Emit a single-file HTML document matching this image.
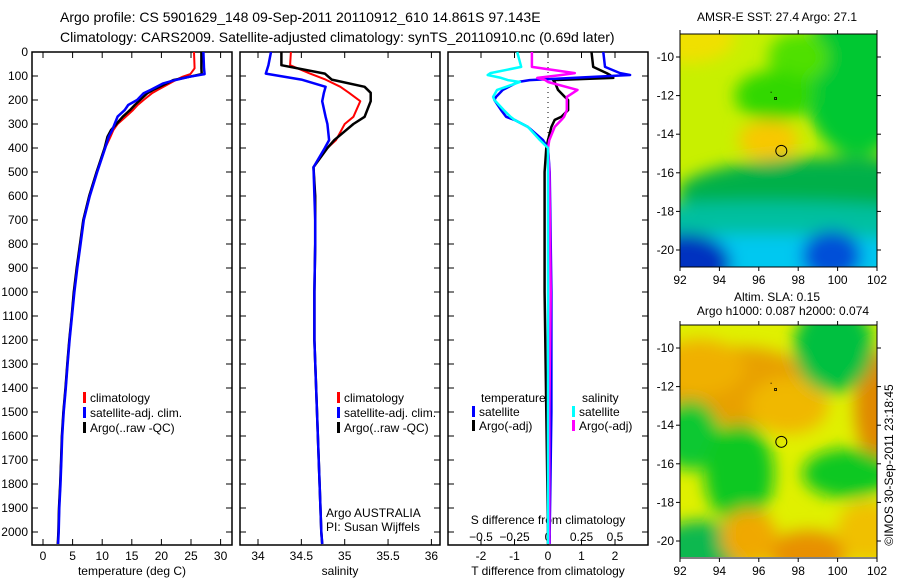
<!DOCTYPE html>
<html><head><meta charset="utf-8"><style>
body{margin:0;background:#fff}
svg{display:block;font-family:"Liberation Sans",sans-serif}
text{font-size:12px;fill:#000}
</style></head><body>
<svg id="c" width="900" height="580" xmlns="http://www.w3.org/2000/svg">
<defs>
<filter id="bl" x="-50%" y="-50%" width="200%" height="200%"><feGaussianBlur stdDeviation="8"/></filter>
<clipPath id="m1c"><rect x="680" y="34" width="197" height="233"/></clipPath>
<clipPath id="m2c"><rect x="680" y="325" width="197" height="232"/></clipPath>
</defs>
<text x="60" y="22" style="font-size:14px">Argo profile: CS 5901629_148 09-Sep-2011 20110912_610 14.861S 97.143E</text>
<text x="60" y="42" style="font-size:14px">Climatology: CARS2009. Satellite-adjusted climatology: synTS_20110910.nc (0.69d later)</text>
<g id="g"></g>
</svg>
<script>
// ---- data ----
const depths=[0,68,92,103,117,131,158,172,200,221,242,269,300,325,353,400,500,600,700,800,900,1000,1100,1200,1300,1400,1500,1600,1700,1800,1900,2000,2050];
const tArgo=[26.75,26.75,26.8,24.8,22,20.9,18.6,17.6,16.4,15.5,14.7,13.5,12.4,11.5,10.9,10.4,9.05,7.8,6.8,6.25,5.7,5.2,4.85,4.45,4.1,3.8,3.45,3.2,3.05,2.9,2.7,2.6,2.5];
const tClim=[25.5,25.6,24.9,23.6,22.4,21.4,19.4,18.4,17,16,15.2,14,12.6,11.9,11.4,10.5,9.05,7.8,6.8,6.25,5.7,5.2,4.85,4.45,4.1,3.8,3.45,3.2,3.05,2.9,2.7,2.6,2.5];
const tSat=[27.1,27.2,27.3,24.8,22.3,20.3,18.2,17,15.9,14.4,13.8,12.6,12.1,11.7,11.1,10.5,9.15,7.9,6.9,6.35,5.8,5.3,4.9,4.5,4.15,3.85,3.5,3.25,3.1,2.95,2.75,2.65,2.55];
const sDepths=[0,55,90,115,145,170,205,270,300,367,400,480,600,700,800,1000,1200,1500,1800,2000,2050];
const sArgo=[34.27,34.27,34.77,34.85,35.23,35.3,35.3,35.23,35.1,34.88,34.8,34.64,34.66,34.66,34.66,34.65,34.65,34.68,34.71,34.73,34.74];
const sClim=[34.38,34.37,34.6,34.78,34.95,35.05,35.18,35.1,35.0,34.9,34.8,34.64,34.66,34.66,34.66,34.65,34.65,34.68,34.71,34.73,34.74];
const sSat=[34.15,34.12,34.09,34.5,34.78,34.76,34.74,34.78,34.8,34.82,34.77,34.64,34.65,34.66,34.66,34.65,34.65,34.68,34.71,34.73,34.74];
const dDepths=[0,62,88,96,108,117,125,158,187,200,242,270,283,312,367,400,500,1000,1500,2000,2050];
const dTArgo=[1.3,1.35,1.75,1.85,1.95,0.15,0.2,0.3,0.5,0.6,0.6,0.4,0.2,0.1,0,-0.05,-0.1,-0.1,-0.05,0,0];
const dTSat=[1.65,1.7,2.15,2.45,0.75,-0.55,-0.9,-1.35,-1.55,-1.6,-1.4,-1.25,-1.0,-0.6,-0.15,0,0.05,0.1,0.1,0.05,0.05];
const dSSat=[-0.23,-0.2,-0.43,-0.45,-0.35,-0.3,-0.21,-0.38,-0.41,-0.4,-0.33,-0.28,-0.25,-0.15,-0.06,0,0,0,0,0,0];
const dSArgo=[-0.12,-0.12,0.2,0.1,-0.08,-0.02,0,0.22,0.14,0.14,0.14,0.12,0.1,0.05,0.01,0,0.01,0.02,0.01,0.01,0.01];
const depthTicks=[0,100,200,300,400,500,600,700,800,900,1000,1100,1200,1300,1400,1500,1600,1700,1800,1900,2000];
const tTicks=[0,5,10,15,20,25,30];
const sTicks=[34,34.5,35,35.5,36];
const dTTicks=[-2,-1,0,1,2];
const dSTicks=[-0.5,-0.25,0,0.25,0.5];
const lonTicks=[92,94,96,98,100,102];
const latTicks=[-10,-12,-14,-16,-18,-20];

const NS="http://www.w3.org/2000/svg",G=document.getElementById('g');
function mk(t,a,p){const e=document.createElementNS(NS,t);for(const k in a)e.setAttribute(k,a[k]);(p||G).appendChild(e);return e;}
function tx(x,y,s,anchor,p){const e=mk('text',{x:x,y:y,'text-anchor':anchor||'start'},p);e.textContent=s;return e;}
const yD=d=>52+d*0.24;
const xT=v=>43+v*5.92, xS=v=>258+(v-34)*86.7, xDT=v=>548+v*33.5, xDS=v=>548+v*134;

function frame(x0,name){
  const r=mk('rect',{x:x0,y:52,width:200,height:493,fill:'none',stroke:'#000','stroke-width':1.5});
  
  
  depthTicks.forEach(d=>{mk('line',{x1:x0,x2:x0+6,y1:yD(d),y2:yD(d),stroke:'#000'});mk('line',{x1:x0+194,x2:x0+200,y1:yD(d),y2:yD(d),stroke:'#000'});});
}
function line(xs,ds,f,col,w,name){
  const pts=xs.map((v,i)=>f(v).toFixed(1)+','+yD(ds[i]).toFixed(1)).join(' ');
  const e=mk('polyline',{points:pts,fill:'none',stroke:col,'stroke-width':w,'stroke-linejoin':'round'});
  
  
}
function xticks(ts,f,y){ts.forEach(t=>{mk('line',{x1:f(t),x2:f(t),y1:52,y2:58,stroke:'#000'});mk('line',{x1:f(t),x2:f(t),y1:539,y2:545,stroke:'#000'});const e=tx(f(t),y,String(t),'middle');});}
function legend(x,y,col,s){mk('rect',{x:x,y:y-10,width:3,height:11,fill:col});const e=tx(x+7,y,s);}

// panel 1
frame(32,'temperature-panel');
depthTicks.forEach(d=>{const e=tx(28,yD(d)+4,String(d),'end');});
xticks(tTicks,xT,560);
let e=tx(132,575,'temperature (deg C)','middle');
line(tClim,depths,xT,'#f00',2,'temperature-climatology-line');
line(tArgo,depths,xT,'#000',2.5,'temperature-argo-line');
line(tSat,depths,xT,'#00f',2.5,'temperature-satellite-line');
legend(83,402,'#f00','climatology');legend(83,417,'#00f','satellite-adj. clim.');legend(83,432,'#000','Argo(..raw -QC)');

// panel 2
frame(240,'salinity-panel');
xticks(sTicks,xS,560);
e=tx(340,575,'salinity','middle');
line(sClim,sDepths,xS,'#f00',2,'salinity-climatology-line');
line(sArgo,sDepths,xS,'#000',2.5,'salinity-argo-line');
line(sSat,sDepths,xS,'#00f',2.5,'salinity-satellite-line');
legend(337,402,'#f00','climatology');legend(337,417,'#00f','satellite-adj. clim.');legend(337,432,'#000','Argo(..raw -QC)');
e=tx(326,517,'Argo AUSTRALIA');
e=tx(326,531,'PI: Susan Wijffels');

// panel 3
frame(448,'difference-panel');
mk('line',{x1:548,x2:548,y1:52,y2:545,stroke:'#000','stroke-dasharray':'1,4'});
xticks(dTTicks,xDT,560);
dSTicks.forEach(t=>{const e=tx(xDS(t),541,String(t).replace('-','\u2212'),'middle');});
e=tx(548,524,'S difference from climatology','middle');
e=tx(548,575,'T difference from climatology','middle');
line(dTArgo,dDepths,xDT,'#000',2.5,'t-diff-argo-line');
line(dTSat,dDepths,xDT,'#00f',2.5,'t-diff-satellite-line');
line(dSArgo,dDepths,xDS,'#f0f',2.5,'s-diff-argo-line');
line(dSSat,dDepths,xDS,'#0ff',2.5,'s-diff-satellite-line');
e=tx(481,402,'temperature');
e=tx(582,402,'salinity');
legend(472,416,'#00f','satellite');legend(472,430,'#000','Argo(-adj)');
legend(572,416,'#0ff','satellite');legend(572,430,'#f0f','Argo(-adj)');

// maps
const lonX=l=>680+(l-92)*19.7;
const m1blobs=[[92.5,-9,45,25,'#f0e000'],[101,-11,55,80,'#00c830'],[98,-10,30,25,'#50e000'],[96.8,-12,40,25,'#30d800'],[96.5,-14.3,30,20,'#f8c800'],[100,-17,160,35,'#00b048'],[96,-18.8,220,25,'#00c0a0'],[96,-20.5,220,25,'#00c8f0'],[92.3,-20.7,45,30,'#0030c0'],[99.7,-20.3,30,25,'#0050d8']];
const m2blobs=[[95,-12,75,40,'#e8a000'],[93,-11,45,28,'#f0b000'],[102,-13,22,55,'#e08800'],[97.5,-13,40,28,'#f0b800'],[99.8,-10,40,45,'#00c040'],[92.5,-14.5,30,35,'#10c830'],[95,-16.5,35,50,'#10c820'],[100.5,-16.5,45,25,'#10c820'],[93,-20.5,45,30,'#10b850'],[98.5,-20.6,40,22,'#e89000'],[95.5,-19.8,28,28,'#f0a800'],[101.5,-19.5,30,30,'#f0c000']];
function map(top,bg,blobs,clip,name,title1,title2){
  const latY=l=>top+23+(-10-l)*19.3;
  const g=mk('g',{'clip-path':'url(#'+clip+')'});
  
  
  mk('rect',{x:680,y:top,width:197,height:233,fill:bg},g);
  const gb=mk('g',{filter:'url(#bl)'},g);
  blobs.forEach(b=>{const el=mk('ellipse',{cx:lonX(b[0]),cy:latY(b[1]),rx:b[2],ry:b[3],fill:b[4]},gb);});
  mk('rect',{x:680,y:top,width:197,height:233,fill:'none',stroke:'#000'});
  lonTicks.forEach(l=>{mk('line',{x1:lonX(l),x2:lonX(l),y1:top-4,y2:top,stroke:'#000'});mk('line',{x1:lonX(l),x2:lonX(l),y1:top+233,y2:top+237,stroke:'#000'});const t=tx(lonX(l),top+250,String(l),'middle');});
  latTicks.forEach(l=>{mk('line',{x1:676,x2:680,y1:latY(l),y2:latY(l),stroke:'#000'});mk('line',{x1:877,x2:881,y1:latY(l),y2:latY(l),stroke:'#000'});const t=tx(674,latY(l)+4,String(l),'end');});
  const c=mk('circle',{cx:lonX(97.143),cy:latY(-14.861),r:5.5,fill:'none',stroke:'#000'});
  
  mk('rect',{x:lonX(96.85)-1,y:latY(-12.15)-1,width:2,height:2,fill:'none',stroke:'#000','stroke-width':0.8});
  mk('rect',{x:lonX(96.6),y:latY(-11.8),width:1,height:1,fill:'#000'});
  let t=tx(777,title2?top-24:top-13,title1,'middle');
  if(title2){t=tx(783,top-10,title2,'middle');}
}
map(34,'#c8f000',m1blobs,'m1c','sst-map','AMSR-E SST: 27.4 Argo: 27.1');
map(325,'#e0f000',m2blobs,'m2c','sla-map','Altim. SLA: 0.15','Argo h1000: 0.087 h2000: 0.074');
e=tx(0,0,'\u00a9IMOS 30-Sep-2011 23:18:45','middle');
e.setAttribute('transform','translate(893,465) rotate(-90)');


</script>
</body></html>
